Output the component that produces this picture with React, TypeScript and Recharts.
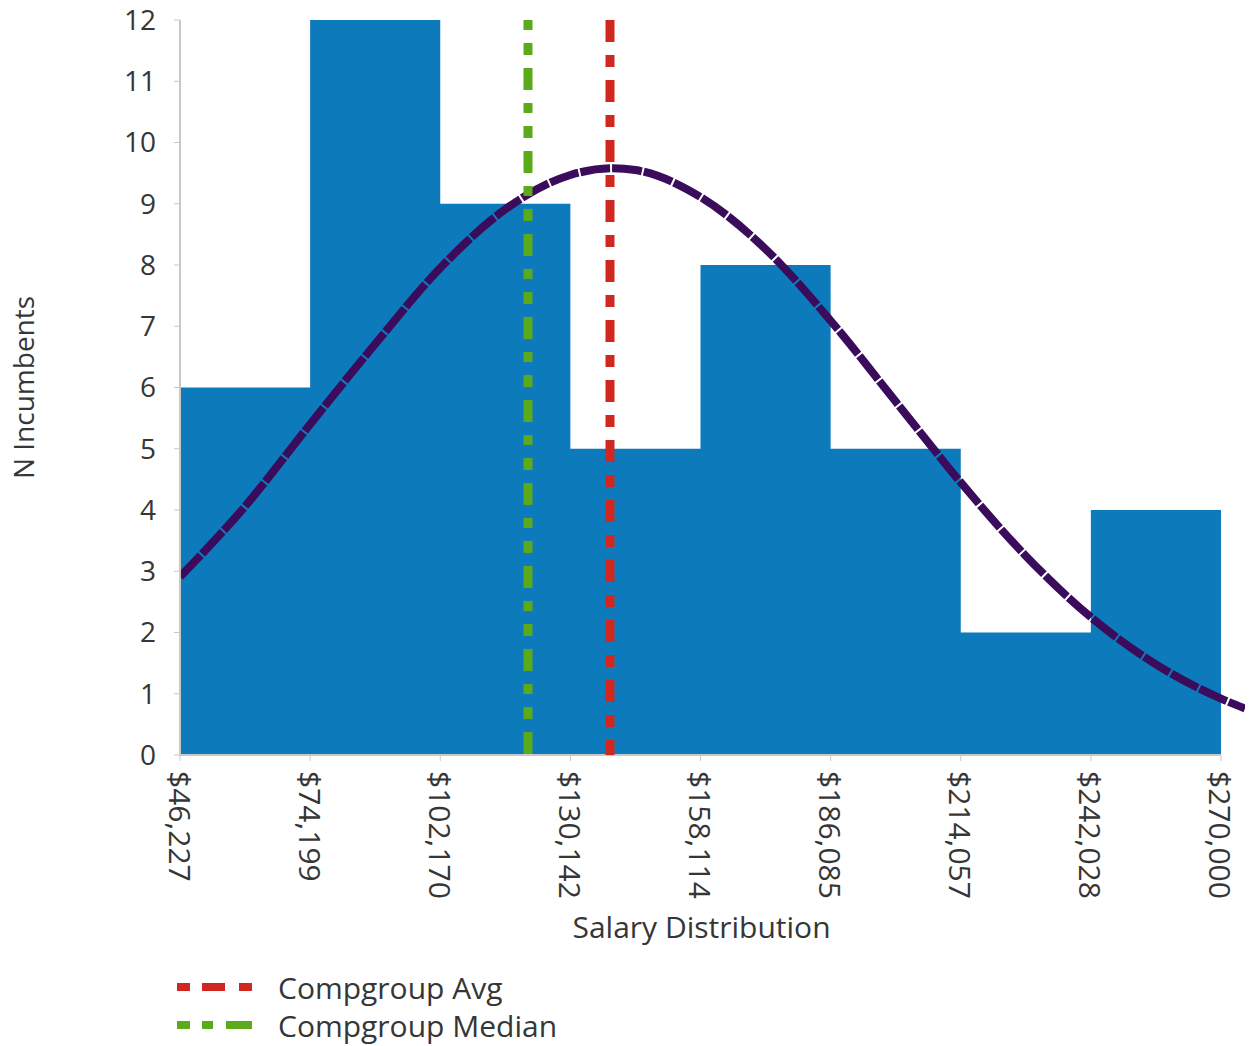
import React from "react";
import {
  ComposedChart,
  Area,
  Line,
  XAxis,
  YAxis,
  ReferenceLine,
  Legend,
  Label,
} from "recharts";

// ---- data ----
const binEdges = [46227, 74199, 102170, 130142, 158114, 186085, 214057, 242028, 270000];
const binCounts = [6, 12, 9, 5, 8, 5, 2, 4];
const curveSalary = [
  46227, 60213, 74199, 88185, 102170, 116156, 130142, 139260, 144128, 158114,
  172100, 186085, 200071, 214057, 228042, 242028, 256014, 270000, 275160,
];
const curveCount = [
  2.91, 4.06, 5.4, 6.71, 7.95, 8.91, 9.47, 9.58, 9.55, 9.11, 8.26, 7.09, 5.77,
  4.45, 3.25, 2.25, 1.48, 0.92, 0.76,
];
const compgroupAvg = 138660;
const compgroupMedian = 121033;
const yTicks = [0, 1, 2, 3, 4, 5, 6, 7, 8, 9, 10, 11, 12];
const xTickLabels = [
  "$46,227", "$74,199", "$102,170", "$130,142", "$158,114",
  "$186,085", "$214,057", "$242,028", "$270,000",
];
const xDomainMax = 275160;

// ---- tables built from the arrays ----
const histData = binEdges.map((x, i) => ({
  x,
  count: binCounts[Math.min(i, binCounts.length - 1)],
}));
const curveData = curveSalary.map((x, i) => ({ x, fit: curveCount[i] }));
const avgData = [
  { x: compgroupAvg, v: 12 },
  { x: compgroupAvg, v: 0 },
];
const medianData = [
  { x: compgroupMedian, v: 12 },
  { x: compgroupMedian, v: 0 },
];

const FONT = "'Open Sans', sans-serif";
const TEXT = "#363636";
const BLUE = "#0c7abb";
const PURPLE = "#3b0b5c";
const RED = "#d0281e";
const GREEN = "#5aaa1c";

const XTick = (props: any) => {
  const { x, y, payload } = props;
  const idx = binEdges.indexOf(payload.value);
  const label = idx >= 0 ? xTickLabels[idx] : String(payload.value);
  return (
    <text
      x={0}
      y={0}
      transform={`translate(${x},${y + 8}) rotate(90)`}
      textAnchor="start"
      dominantBaseline="central"
      fontFamily={FONT}
      fontSize={30}
      fill={TEXT}
    >
      {label}
    </text>
  );
};

const LegendContent = () => (
  <svg width={460} height={80} style={{ display: "block" }}>
    <line
      x1={0}
      x2={75}
      y1={20}
      y2={20}
      stroke={RED}
      strokeWidth={8}
      strokeDasharray="13 12 23 14 13"
    />
    <text x={101} y={20} dominantBaseline="central" fontFamily={FONT} fontSize={30} fill={TEXT}>
      Compgroup Avg
    </text>
    <line
      x1={0}
      x2={75}
      y1={58}
      y2={58}
      stroke={GREEN}
      strokeWidth={8}
      strokeDasharray="13 12 11 13 26"
    />
    <text x={101} y={58} dominantBaseline="central" fontFamily={FONT} fontSize={30} fill={TEXT}>
      Compgroup Median
    </text>
  </svg>
);

export default function App() {
  return (
    <div
      style={{
        position: "absolute",
        left: 0,
        top: 0,
        width: 1256,
        height: 1046,
        background: "#fff",
      }}
    >
      <ComposedChart
        width={1256}
        height={1046}
        margin={{ top: 20, right: 11, bottom: 131, left: 100 }}
      >
        <XAxis
          type="number"
          dataKey="x"
          domain={[46227, xDomainMax]}
          ticks={binEdges}
          interval={0}
          allowDataOverflow
          axisLine={false}
          tickLine={{ stroke: "#c8c8c8" }}
          tickSize={6}
          tick={<XTick />}
          height={160}
        >
          <Label
            value="Salary Distribution"
            position="insideBottom"
            offset={0}
            dx={-11}
            dy={23}
            fontFamily={FONT}
            fontSize={30}
            fill={TEXT}
          />
        </XAxis>
        <YAxis
          type="number"
          domain={[0, 12]}
          ticks={yTicks}
          interval={0}
          width={80}
          axisLine={{ stroke: "#c8c8c8", strokeWidth: 2 }}
          tickLine={{ stroke: "#c8c8c8" }}
          tickSize={6}
          tickMargin={18}
          tick={{ fontFamily: FONT, fontSize: 28, fill: TEXT }}
        >
          <Label
            value="N Incumbents"
            angle={-90}
            position="insideLeft"
            offset={0}
            dx={-76}
            fontFamily={FONT}
            fontSize={28}
            fill={TEXT}
            style={{ textAnchor: "middle" }}
          />
        </YAxis>
        <Area
          data={histData}
          dataKey="count"
          type="stepAfter"
          fill={BLUE}
          fillOpacity={1}
          stroke="none"
          isAnimationActive={false}
          dot={false}
          activeDot={false}
        />
        <ReferenceLine
          segment={[
            { x: 46227, y: 0 },
            { x: 270000, y: 0 },
          ]}
          stroke="#c8c8c8"
          strokeWidth={2}
        />
        <Line
          data={curveData}
          dataKey="fit"
          type="monotone"
          stroke={PURPLE}
          strokeWidth={8}
          strokeDasharray="30 2"
          dot={false}
          activeDot={false}
          isAnimationActive={false}
        />
        <Line
          data={medianData}
          dataKey="v"
          stroke={GREEN}
          strokeWidth={9}
          strokeDasharray="10 13 12 13 22 13"
          dot={false}
          activeDot={false}
          isAnimationActive={false}
        />
        <Line
          data={avgData}
          dataKey="v"
          stroke={RED}
          strokeWidth={9}
          strokeDasharray="22 13 12 13"
          dot={false}
          activeDot={false}
          isAnimationActive={false}
        />
        <Legend
          layout="vertical"
          align="center"
          verticalAlign="middle"
          content={<LegendContent />}
          wrapperStyle={{ left: 177, top: 967, width: 460, height: 80 }}
        />
      </ComposedChart>
    </div>
  );
}
